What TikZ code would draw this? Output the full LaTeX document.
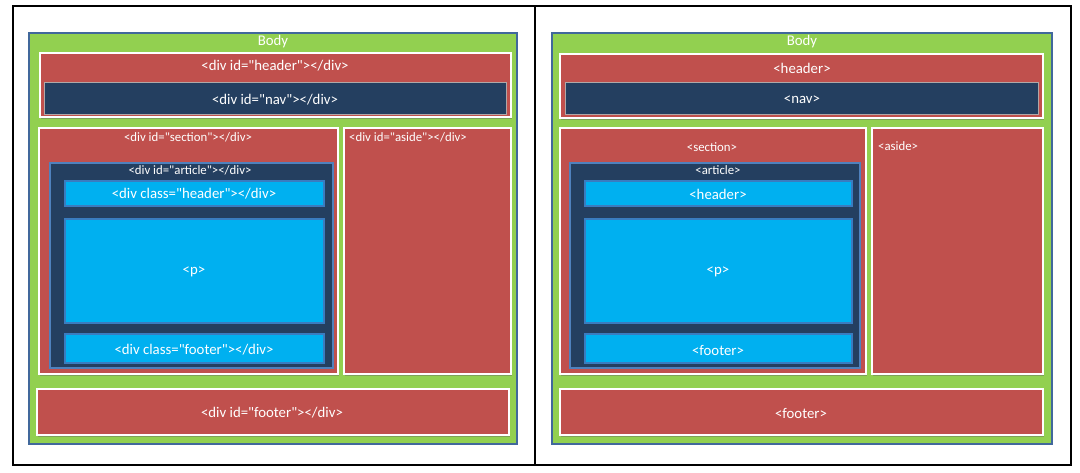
\documentclass[tikz,border=0pt]{standalone}
\usepackage{fontspec}
\setmainfont{Carlito}[Ligatures=TeXOff]
\usetikzlibrary{shadows}
\definecolor{bodygreen}{HTML}{92D050}
\definecolor{bodyedge}{HTML}{41689B}
\definecolor{boxred}{HTML}{C0504D}
\definecolor{boxnavy}{HTML}{243F60}
\definecolor{boxcyan}{HTML}{00B0F0}
\definecolor{cyanedge}{HTML}{3A7CC0}
\definecolor{artedge}{HTML}{4F81BD}
\definecolor{navedge}{HTML}{B0A8A8}
\tikzset{
  bodybox/.style={fill=bodygreen, draw=bodyedge, line width=1.8pt},
  redbox/.style={fill=boxred, draw=white, line width=2pt,
    drop shadow={shadow xshift=1.2pt, shadow yshift=-1.8pt, opacity=0.45, fill=black!60}},
  navbox/.style={fill=boxnavy, draw=navedge, line width=1pt},
  artbox/.style={fill=boxnavy, draw=artedge, line width=1.5pt},
  cyanbox/.style={fill=boxcyan, draw=cyanedge, line width=1.5pt},
  bigtxt/.style={text=white, font=\fontsize{14.8}{17}\selectfont, inner sep=0pt},
  smalltxt/.style={text=white, font=\fontsize{12.8}{15}\selectfont, inner sep=0pt},
}
\begin{document}
\begin{tikzpicture}[x=1pt, y=-1pt]
\useasboundingbox (0,0) rectangle (1080,473);
\fill[white] (0,0) rectangle (1080,473);

% outer frame and divider
\draw[black, line width=1.2pt] (13,6) rectangle (1071,465);
\draw[black, line width=1.2pt] (535,6) -- (535,465);

% ---------- left panel: div-based layout ----------
\path[bodybox] (29,33) rectangle (517,444);
\node[bigtxt] (lbody) at (273,42) {Body};

\path[redbox] (40,53) rectangle (511,117);
\node[bigtxt] (lheader) at (275,66) {<div id="header"></div>};
\path[navbox] (44,83) rectangle (506,115);
\node[bigtxt] (lnav) at (275,100) {<div id="nav"></div>};

\path[redbox] (39,128) rectangle (338,374);
\node[smalltxt] (lsection) at (188,137) {<div id="section"></div>};
\path[artbox] (50,163) rectangle (333,368);
\node[smalltxt] (larticle) at (190,170) {<div id="article"></div>};
\path[cyanbox] (65,181) rectangle (324,206);
\node[bigtxt] (lhdr) at (194,194) {<div class="header"></div>};
\path[cyanbox] (65,219) rectangle (324,323);
\node[bigtxt] (lp) at (194,272) {<p>};
\path[cyanbox] (65,334) rectangle (324,363);
\node[bigtxt] (lftr) at (194,350) {<div class="footer"></div>};

\path[redbox] (344,128) rectangle (511,374);
\node[smalltxt, anchor=west] (laside) at (349,137) {<div id="aside"></div>};

\path[redbox] (37,389) rectangle (509,435);
\node[bigtxt] (lfooter) at (272,413) {<div id="footer"></div>};

% ---------- right panel: semantic layout ----------
\path[bodybox] (552,33) rectangle (1052,444);
\node[bigtxt] (rbody) at (802,42) {Body};

\path[redbox] (560,54) rectangle (1043,118);
\node[bigtxt] (rheader) at (802,68) {<header>};
\path[navbox] (565,83) rectangle (1038,115);
\node[bigtxt] (rnav) at (802,100) {<nav>};

\path[redbox] (560,128) rectangle (866,374);
\node[smalltxt] (rsection) at (712,147) {<section>};
\path[artbox] (570,163) rectangle (860,368);
\node[smalltxt] (rarticle) at (718,170) {<article>};
\path[cyanbox] (585,181) rectangle (852,206);
\node[bigtxt] (rhdr) at (718,194) {<header>};
\path[cyanbox] (585,219) rectangle (852,323);
\node[bigtxt] (rp) at (718,272) {<p>};
\path[cyanbox] (585,334) rectangle (852,363);
\node[bigtxt] (rftr) at (718,350) {<footer>};

\path[redbox] (872,128) rectangle (1043,374);
\node[smalltxt, anchor=west] (raside) at (878,146) {<aside>};

\path[redbox] (560,389) rectangle (1043,435);
\node[bigtxt] (rfooter) at (801,413) {<footer>};
\end{tikzpicture}
\end{document}
